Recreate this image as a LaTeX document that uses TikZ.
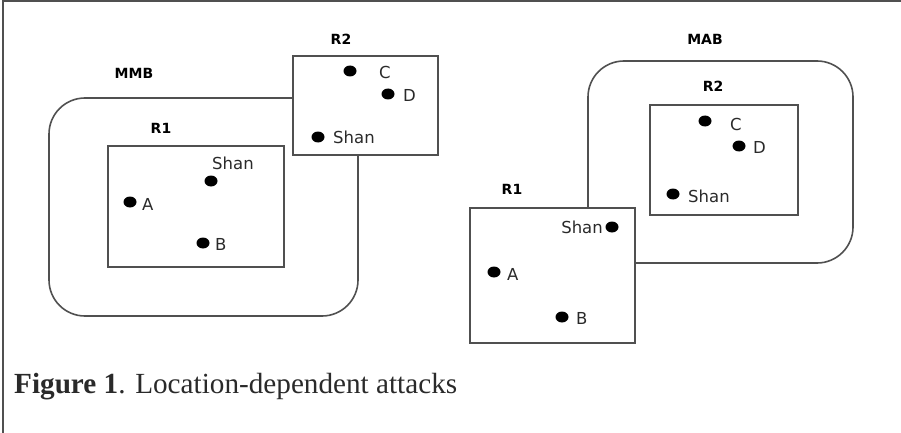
\documentclass[tikz,border=0pt]{standalone}
\usepackage{fontspec}
\setmainfont{Liberation Serif}
\newfontfamily\labelfont{DejaVu Sans}
\usetikzlibrary{shapes.geometric}
\definecolor{edge}{HTML}{505050}
\definecolor{ink}{HTML}{2A2A2A}
\tikzset{
  zone/.style={draw=edge, line width=1.6pt, rounded corners=36pt},
  region/.style={draw=edge, line width=1.6pt, fill=white},
  spot/.style={ellipse, fill=black, minimum width=13pt, minimum height=11pt, inner sep=0pt},
  lbl/.style={inner sep=0pt, text=ink, font=\labelfont\fontsize{16.5}{16.5}\selectfont},
  ttl/.style={inner sep=0pt, text=black, font=\labelfont\bfseries\fontsize{14}{14}\selectfont},
  frameline/.style={draw=edge, line width=1.4pt}
}
\begin{document}
\begin{tikzpicture}[x=1pt,y=-1pt]
\useasboundingbox (0,0) rectangle (901,433);
\fill[white] (0,0) rectangle (901,433);
% frame
\coordinate (fa) at (3,433);
\coordinate (fb) at (3,1.2);
\coordinate (fc) at (901,1.2);
\draw[frameline] (fa) -- (fb) -- (fc);

% ---------- MMB ----------
\node[ttl] (mmb) at (134,73) {MMB};
\draw[zone] (49,98) rectangle (358,316);
\node[ttl] (r1a) at (161,128) {R1};
\draw[region] (108,146) rectangle (284,267);
\node[lbl, anchor=west] (shanA) at (212,163) {Shan};
\node[spot] (sA) at (211,181) {};
\node[spot] (aA) at (130,202) {};
\node[lbl, anchor=west] (aAl) at (142,204) {A};
\node[spot] (bA) at (203,243) {};
\node[lbl, anchor=west] (bAl) at (215,244) {B};

\node[ttl] (r2a) at (341,39) {R2};
\draw[region] (293,56) rectangle (438,155);
\node[spot] (cA) at (350,71) {};
\node[lbl, anchor=west] (cAl) at (379,72) {C};
\node[spot] (dA) at (388,94) {};
\node[lbl, anchor=west] (dAl) at (403,95) {D};
\node[spot] (s2A) at (318,137) {};
\node[lbl, anchor=west] (s2Al) at (333,137) {Shan};

% ---------- MAB ----------
\node[ttl] (mab) at (705,39) {MAB};
\draw[zone] (588,61) rectangle (853,263);
\node[ttl] (r2b) at (713,86) {R2};
\draw[region] (650,105) rectangle (798,215);
\node[spot] (cB) at (705,121) {};
\node[lbl, anchor=west] (cBl) at (730,124) {C};
\node[spot] (dB) at (739,146) {};
\node[lbl, anchor=west] (dBl) at (753,147) {D};
\node[spot] (s2B) at (673,194) {};
\node[lbl, anchor=west] (s2Bl) at (688,196) {Shan};

\node[ttl] (r1b) at (512,189) {R1};
\draw[region] (470,208) rectangle (635,343);
\node[spot] (sB) at (612,227) {};
\node[lbl, anchor=east] (sBl) at (603,227) {Shan};
\node[spot] (aB) at (494,272) {};
\node[lbl, anchor=west] (aBl) at (507,274) {A};
\node[spot] (bB) at (562,317) {};
\node[lbl, anchor=west] (bBl) at (576,318) {B};

% caption
\node[anchor=base west, inner sep=0pt, text=ink, font=\fontsize{29.2}{29.2}\selectfont] (cap) at (14,393) {\textbf{Figure 1}. Location-dependent attacks};
\end{tikzpicture}
\end{document}
